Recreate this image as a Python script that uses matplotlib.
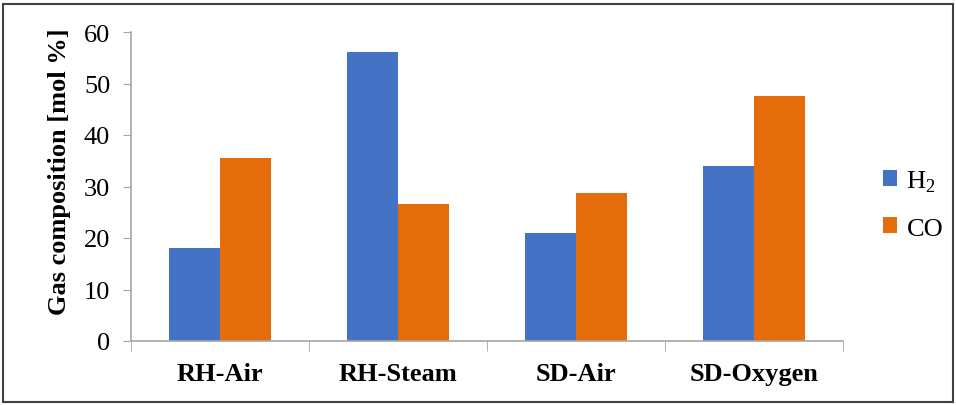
import matplotlib
matplotlib.use('Agg')
import matplotlib.pyplot as plt
import numpy as np
from matplotlib.patches import Rectangle

plt.rcParams['font.family'] = ['Liberation Serif', 'DejaVu Serif']
plt.rcParams['mathtext.fontset'] = 'custom'
plt.rcParams['mathtext.rm'] = 'Liberation Serif'

cases = ['RH-Air', 'RH-Steam', 'SD-Air', 'SD-Oxygen']
h2 = [18.1, 56.1, 20.9, 33.9]
co = [35.6, 26.6, 28.8, 47.5]
series_names = ['H$_2$', 'CO']
colors = ['#4472C4', '#E46C0A']

fig = plt.figure(figsize=(9.56, 4.06), dpi=100)
ax = fig.add_axes([131 / 956, 1 - 342 / 406, 712 / 956, 309 / 406])

x = np.arange(len(cases))
w = 0.284
ax.bar(x - w / 2, h2, w, color=colors[0], label=series_names[0])
ax.bar(x + w / 2, co, w, color=colors[1], label=series_names[1])

ax.set_xlim(-0.5, len(cases) - 0.5)
ax.set_ylim(0, 60)
ax.set_yticks(range(0, 61, 10))
ax.tick_params(axis='y', labelsize=19, length=6, color='#A6A6A6', pad=9)

# category labels between the boundary ticks
ax.set_xticks(x)
ax.set_xticklabels(cases, fontsize=19, fontweight='bold')
ax.set_xticks(np.arange(-0.5, len(cases), 1), minor=True)
ax.tick_params(axis='x', which='major', length=0, pad=15)
ax.tick_params(axis='x', which='minor', length=7, color='#A6A6A6')

for side in ['top', 'right']:
    ax.spines[side].set_visible(False)
for side in ['left', 'bottom']:
    ax.spines[side].set_color('#A6A6A6')
    ax.spines[side].set_linewidth(1.2)

ax.set_ylabel('Gas composition [mol %]', fontsize=19, fontweight='bold')
ax.yaxis.set_label_coords(-0.084, 0.55)

fig.legend(loc='center left', bbox_to_anchor=(859 / 956, 1 - 205 / 406),
           frameon=False, fontsize=19, handlelength=0.55, handleheight=0.55,
           handletextpad=0.35, labelspacing=0.9)

# outer frame around the whole chart
fig.patches.append(Rectangle((3 / 956, 3 / 406), 950 / 956, 398 / 406,
                             transform=fig.transFigure, fill=False,
                             edgecolor='#404040', linewidth=1.5))

fig.savefig('out.png', dpi=100)
